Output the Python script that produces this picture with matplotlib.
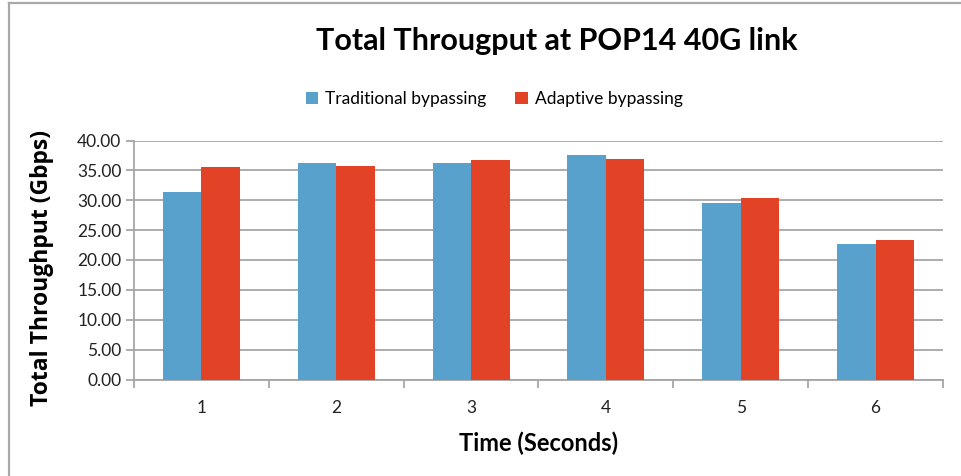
import matplotlib
matplotlib.use("Agg")
import matplotlib.pyplot as plt
import numpy as np
from matplotlib.patches import Patch
from matplotlib.lines import Line2D

# Data
seconds = ["1", "2", "3", "4", "5", "6"]
traditional = [31.3, 36.2, 36.2, 37.6, 29.5, 22.6]
adaptive = [35.5, 35.8, 36.8, 36.9, 30.4, 23.35]
y_ticks = [0, 5, 10, 15, 20, 25, 30, 35, 40]

blue = "#58a1cd"
red = "#e24327"
grid_col = "#a6a6a6"

W, H = 961, 476
fig = plt.figure(figsize=(W / 100, H / 100), dpi=100)
fig.patch.set_facecolor("white")

# light frame around the chart area (left and top edges)
fig.add_artist(Line2D([8.7 / W, 8.7 / W], [0, 1 - 2.5 / H], color="#a8a8a8", lw=1.6,
                      transform=fig.transFigure))
fig.add_artist(Line2D([8.7 / W, 1], [1 - 2.5 / H, 1 - 2.5 / H], color="#a8a8a8", lw=1.6,
                      transform=fig.transFigure))

ax_left, ax_bottom, ax_w, ax_h = 134, H - 379.5, 809, 239
ax = fig.add_axes([ax_left / W, ax_bottom / H, ax_w / W, ax_h / H])

x = np.arange(len(seconds))
bw = 1 / 3.5
ax.bar(x - bw / 2, traditional, bw, color=blue, label="Traditional bypassing", zorder=3)
ax.bar(x + bw / 2, adaptive, bw, color=red, label="Adaptive bypassing", zorder=3)

ax.set_xlim(-0.5, len(seconds) - 0.5)
ax.set_ylim(0, 40)
ax.set_yticks(y_ticks)
ax.set_yticklabels([f"{v:.2f}" for v in y_ticks], fontfamily="Lato", fontsize=12.5, color="#222222")
ax.yaxis.grid(True, color=grid_col, lw=1.3, zorder=0)
ax.set_axisbelow(True)

ax.set_xticks(x)
ax.set_xticklabels(seconds, fontfamily="Lato", fontsize=12.5, color="#222222")
ax.tick_params(axis="x", which="major", length=0, pad=15)
ax.set_xticks(np.arange(-0.5, len(seconds), 1), minor=True)
ax.tick_params(axis="x", which="minor", length=6, width=1.3, color=grid_col, direction="out")
ax.tick_params(axis="y", length=6, width=1.3, color=grid_col, pad=3)

for s in ("top", "right"):
    ax.spines[s].set_visible(False)
for s in ("left", "bottom"):
    ax.spines[s].set_color(grid_col)
    ax.spines[s].set_linewidth(1.3)

ax.set_xlabel("Time (Seconds)", fontfamily="Lato", fontweight="bold", fontsize=17, labelpad=11)
ax.set_ylabel("Total Throughput (Gbps)", fontfamily="Open Sans", fontweight="bold",
              fontsize=16.5)
ax.yaxis.set_label_coords((42 - ax_left) / ax_w, (H - 268 - ax_bottom) / ax_h)
ax.yaxis.label.set_va("center")

fig.text(557 / W, 1 - 41 / H, "Total Througput at POP14 40G link", ha="center", va="center",
         fontfamily="Lato", fontweight="bold", fontsize=22)

handles = [Patch(facecolor=blue, label="Traditional bypassing"),
           Patch(facecolor=red, label="Adaptive bypassing")]
fig.legend(handles=handles, loc="center", bbox_to_anchor=(494 / W, 1 - 99 / H), ncol=2,
           frameon=False, prop={"family": "Lato", "size": 12.5}, handlelength=0.7,
           handleheight=0.7, handletextpad=0.4, columnspacing=1.7)

fig.savefig("out.png", dpi=100, facecolor="white")
